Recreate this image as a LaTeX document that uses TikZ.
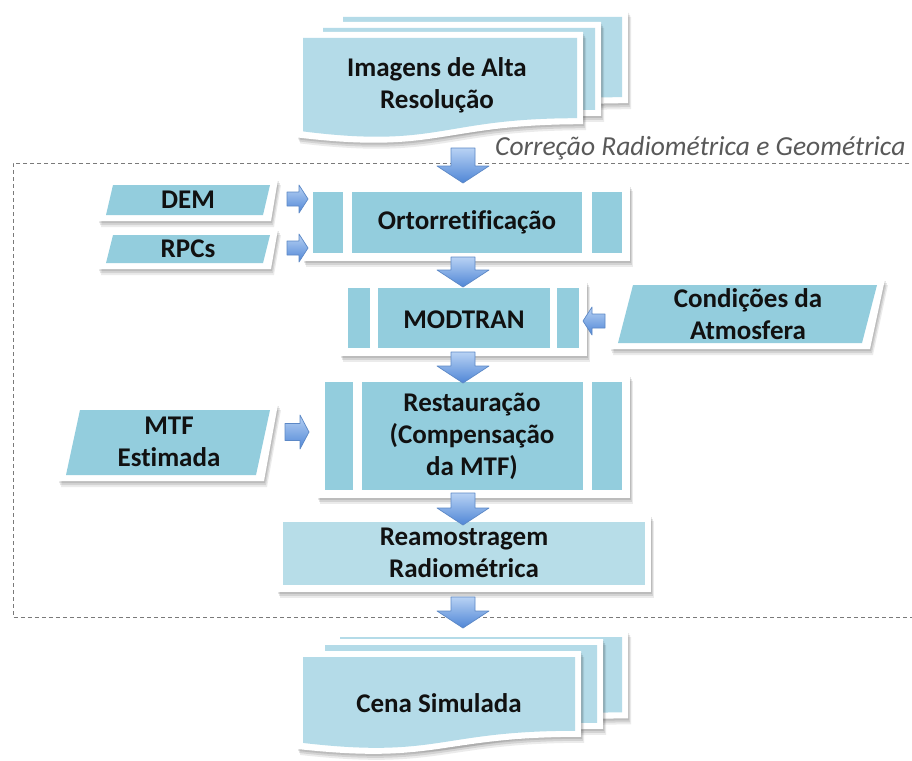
\documentclass[tikz,border=0pt]{standalone}
\usepackage{fontspec}
\setmainfont{Carlito}[Ligatures=NoCommon]
\definecolor{procc}{HTML}{93CDDD}
\definecolor{docc}{HTML}{B4DBE8}
\definecolor{reamc}{HTML}{B7DDE8}
\definecolor{arrlight}{HTML}{B8D2F4}
\definecolor{arrdark}{HTML}{4F86D6}
\definecolor{arredge}{HTML}{5C88C6}
\definecolor{labgray}{HTML}{595959}
\definecolor{txtc}{HTML}{111111}
\newcommand\cardshadow[1]{%
  \fill[black,opacity=0.10,shift={(1,2)}] #1;
  \fill[black,opacity=0.10,shift={(2,4)}] #1;
  \fill[black,opacity=0.08,shift={(3,6)}] #1;
  \fill[white] #1;}
\newcommand\docpath[4]{({#1},{#2}) -- ({#3},{#2}) -- ({#3},{#2+0.802*#4}) .. controls ({(#1+#3)/2},{#2+0.802*#4}) and ({(#1+#3)/2},{#2+1.107*#4}) .. ({#1},{#2+0.934*#4}) -- cycle}
\newcommand\docard[4]{%
  \cardshadow{\docpath{#1-6}{#2-6}{#3+6}{#4+12}}
  \fill[docc] \docpath{#1}{#2}{#3}{#4};}
\newcommand\parapath[5]{({#1+#5},{#2}) -- ({#3},{#2}) -- ({#3-#5},{#4}) -- ({#1},{#4}) -- cycle}
\newcommand\paracard[5]{%
  \cardshadow{\parapath{#1-8}{#2-6}{#3+8}{#4+6}{#5}}
  \fill[procc] \parapath{#1}{#2}{#3}{#4}{#5};}
\newcommand\mydarr[3]{\path[barrow] ({#1-12},{#2}) -- ({#1+12},{#2}) -- ({#1+12},{#3-17}) -- ({#1+26},{#3-17}) -- ({#1},{#3}) -- ({#1-26},{#3-17}) -- ({#1-12},{#3-17}) -- cycle;}
\newcommand\myrarr[4]{\path[barrow] ({#1},{#3-#4/2}) -- ({#2-9},{#3-#4/2}) -- ({#2-9},{#3-#4}) -- ({#2},{#3}) -- ({#2-9},{#3+#4}) -- ({#2-9},{#3+#4/2}) -- ({#1},{#3+#4/2}) -- cycle;}
\newcommand\mylarr[4]{\path[barrow] ({#2},{#3-#4/2}) -- ({#1+9},{#3-#4/2}) -- ({#1+9},{#3-#4}) -- ({#1},{#3}) -- ({#1+9},{#3+#4}) -- ({#1+9},{#3+#4/2}) -- ({#2},{#3+#4/2}) -- cycle;}
\begin{document}
\begin{tikzpicture}[x=1pt,y=-1pt,
  txt/.style={font=\bfseries\fontsize{27}{32}\selectfont, text=txtc, align=center, inner sep=0pt},
  barrow/.style={top color=arrlight, bottom color=arrdark, draw=arredge, line width=0.7pt, line join=round}]
\useasboundingbox (0,0) rectangle (912,760);
\fill[white] (0,0) rectangle (912,760);

% dashed frame
\draw[labgray!80, line width=0.8pt, dash pattern=on 4pt off 3pt] (916,163) -- (13,163) -- (13,617) -- (916,617);
\node[anchor=base west, font=\itshape\fontsize{27.5}{32}\selectfont, text=labgray, inner sep=0pt] (lab) at (495,155) {Correção Radiométrica e Geométrica};

% top document stack
\docard{343}{17}{622}{100}
\docard{323}{28}{595}{102}
\docard{303}{38}{577}{100}
\node[txt] (img) at (437,85) {Imagens de Alta\\Resolução};

% Ortorretificacao
\cardshadow{(303,185) rectangle (630,261)}
\fill[procc] (313,192) rectangle (343,253);
\fill[procc] (352,192) rectangle (582,253);
\fill[procc] (592,192) rectangle (622,253);
\node[txt] (orto) at (467,222) {Ortorretificação};

% DEM and RPCs
\paracard{106}{185}{270}{215}{7}
\node[txt] (dem) at (188,200) {DEM};
\paracard{106}{235}{270}{263}{7}
\node[txt] (rpc) at (188,249) {RPCs};

% MODTRAN
\cardshadow{(340,281) rectangle (587,356)}
\fill[procc] (348,288) rectangle (370,348);
\fill[procc] (378,288) rectangle (550,348);
\fill[procc] (557,288) rectangle (579,348);
\node[txt] (mod) at (464,320) {MODTRAN};

% Condicoes
\paracard{618}{285}{877}{343}{15}
\node[txt] (cond) at (748,314) {Condições da\\Atmosfera};

% Restauracao
\cardshadow{(317,375) rectangle (630,498)}
\fill[procc] (325,382) rectangle (353,490);
\fill[procc] (362,382) rectangle (583,490);
\fill[procc] (592,382) rectangle (622,490);
\node[txt] (rest) at (472,436) {Restauração\\(Compensação\\da MTF)};

% MTF
\paracard{66}{410}{270}{475}{14}
\node[txt] (mtf) at (169,442) {MTF\\Estimada};

% Reamostragem
\cardshadow{(277,515) rectangle (651,592)}
\fill[reamc] (283,522) rectangle (645,585);
\node[txt] (ream) at (464,553) {Reamostragem\\Radiométrica};

% bottom document stack
\docard{340}{637}{622}{94}
\docard{325}{645}{597}{97}
\docard{303}{657}{575}{92}
\node[txt] (cena) at (439,703) {Cena Simulada};

% block arrows
\mydarr{463}{148}{183}
\mydarr{463}{257}{287}
\mydarr{463}{352}{383}
\mydarr{463}{493}{525}
\mydarr{463}{597}{628}
\myrarr{287}{308}{199}{14}
\myrarr{287}{308}{248}{14}
\myrarr{285}{309}{432}{17}
\mylarr{583}{605}{321}{14}
\end{tikzpicture}
\end{document}
